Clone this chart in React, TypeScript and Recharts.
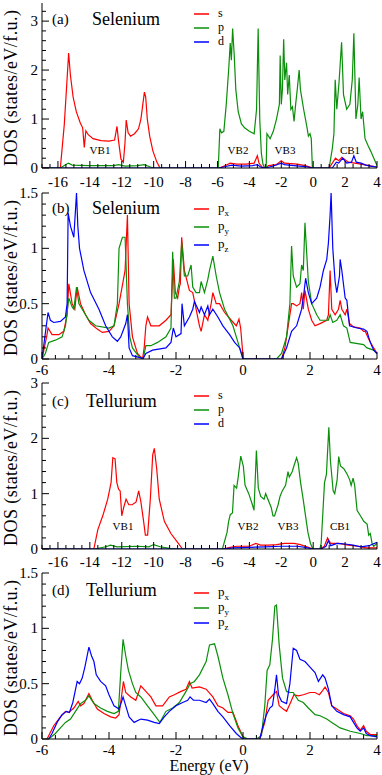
import React from 'react';
import { LineChart, Line, XAxis, YAxis } from 'recharts';

const FONT = '"Liberation Serif", "Times New Roman", serif';
const RED = '#ff0000';
const GREEN = '#0a8f0a';
const BLUE = '#0000ff';

type Pt = [number, number];

// (a) Selenium: s, p, d projected DOS  [energy eV, DOS]
const seS: Pt[] = [
  [-17, 0], [-15.85, 0], [-15.6, 0.9], [-15.45, 1.7], [-15.33, 2.35], [-15.22, 1.9], [-15.05, 1.45],
  [-14.85, 1.15], [-14.6, 0.92], [-14.45, 0.82], [-14.35, 0.42], [-14.25, 0.76], [-14.1, 0.68],
  [-13.8, 0.6], [-13.3, 0.56], [-12.8, 0.55], [-12.45, 0.57], [-12.3, 0.85], [-12.2, 0.55],
  [-12.05, 0.18], [-11.9, 0.12], [-11.8, 0.5], [-11.72, 0.98], [-11.6, 0.72], [-11.45, 0.65],
  [-11.2, 0.7], [-10.95, 0.8], [-10.8, 1.0], [-10.7, 1.25], [-10.58, 1.55], [-10.5, 1.45],
  [-10.4, 1.0], [-10.25, 0.65], [-10.05, 0.35], [-9.8, 0.12], [-9.6, 0],
  [-5.9, 0], [-5.5, 0.05], [-5.2, 0.1], [-4.8, 0.08], [-4.2, 0.08], [-3.7, 0.1], [-3.5, 0.25],
  [-3.4, 0.1], [-3.2, 0.02], [-3.0, 0], [-2.8, 0.05], [-2.3, 0.07], [-2.0, 0.15], [-1.8, 0.1],
  [-1.0, 0.08], [-0.5, 0.05], [0, 0], [1.0, 0], [1.4, 0.2], [1.6, 0.15], [1.8, 0.22], [2.2, 0.12],
  [2.6, 0.1], [3.0, 0.08], [3.5, 0.05], [4, 0.02],
];
const seP: Pt[] = [
  [-17, 0], [-15.85, 0], [-15.6, 0.05], [-15.35, 0.1], [-15.1, 0.06], [-14, 0.05], [-12.5, 0.05],
  [-12.2, 0.07], [-11.8, 0.04], [-11, 0.05], [-10.6, 0.07], [-10.2, 0.02], [-10, 0],
  [-5.95, 0], [-5.85, 0.8], [-5.75, 0.72], [-5.6, 0.75], [-5.45, 1.3], [-5.3, 2.0], [-5.2, 2.55],
  [-5.13, 2.2], [-5.05, 2.85], [-4.95, 2.3], [-4.85, 1.6], [-4.7, 1.15], [-4.5, 0.9], [-4.3, 0.82],
  [-4.0, 0.75], [-3.7, 0.7], [-3.55, 1.2], [-3.45, 2.85], [-3.35, 1.0], [-3.25, 0.3], [-3.15, 0.08],
  [-3.05, 0], [-2.95, 0], [-2.9, 0.7], [-2.7, 0.6], [-2.5, 0.75], [-2.3, 1.0], [-2.12, 1.3],
  [-2.07, 2.3], [-2.0, 1.3], [-1.93, 1.6], [-1.85, 2.63], [-1.78, 1.8], [-1.67, 2.15], [-1.6, 1.5],
  [-1.5, 1.9], [-1.4, 1.2], [-1.3, 1.25], [-1.2, 0.95], [-1.1, 1.3], [-1.0, 1.6], [-0.88, 2.0],
  [-0.8, 1.6], [-0.6, 1.2], [-0.4, 0.85], [-0.3, 0.65], [-0.2, 0.7], [-0.12, 0.6], [-0.05, 0],
  [1.0, 0], [1.2, 0.4], [1.3, 0.7], [1.38, 1.8], [1.48, 1.2], [1.62, 1.75], [1.78, 2.57], [1.9, 1.5],
  [2.1, 1.2], [2.3, 1.3], [2.45, 1.8], [2.55, 2.75], [2.68, 1.0], [2.8, 1.3], [2.88, 1.85], [3.0, 1.0],
  [3.1, 1.15], [3.25, 0.6], [3.45, 0.45], [3.6, 0.35], [3.8, 0.2], [4.0, 0.05],
];
const seD: Pt[] = [
  [-17, 0], [-5.9, 0], [-5.5, 0.03], [-5.1, 0.06], [-4.5, 0.04], [-3.8, 0.05], [-3.5, 0.07],
  [-3.3, 0.02], [-3.0, 0], [-2.5, 0.04], [-2.0, 0.1], [-1.8, 0.07], [-1.2, 0.05], [-0.5, 0.03],
  [0, 0], [1.2, 0], [1.45, 0.12], [1.6, 0.1], [1.85, 0.2], [2.1, 0.1], [2.4, 0.12], [2.55, 0.25],
  [2.7, 0.12], [3.0, 0.1], [3.3, 0.06], [3.6, 0.04], [4, 0.02],
];

// (b) Selenium: px, py, pz
const sePx: Pt[] = [
  [-6, 0], [-5.85, 0.22], [-5.82, 0.28], [-5.7, 0.22], [-5.5, 0.22], [-5.35, 0.25], [-5.25, 0.4],
  [-5.2, 0.68], [-5.1, 0.5], [-5.02, 0.45], [-4.95, 0.65], [-4.85, 0.5], [-4.7, 0.4], [-4.55, 0.32],
  [-4.35, 0.27], [-4.2, 0.24], [-4.0, 0.25], [-3.85, 0.3], [-3.7, 0.5], [-3.58, 0.7], [-3.52, 0.8],
  [-3.45, 1.3], [-3.4, 0.5], [-3.3, 0.2], [-3.15, 0.05], [-3.0, 0], [-2.95, 0.1], [-2.9, 0.3],
  [-2.85, 0.38], [-2.75, 0.3], [-2.5, 0.3], [-2.3, 0.35], [-2.15, 0.4], [-2.08, 0.9], [-2.02, 0.6],
  [-1.95, 0.55], [-1.9, 0.65], [-1.87, 0.68], [-1.83, 1.1], [-1.75, 0.8], [-1.6, 0.62], [-1.5, 0.6],
  [-1.4, 0.45], [-1.3, 0.3], [-1.25, 0.25], [-1.15, 0.4], [-1.05, 0.35], [-0.95, 0.5], [-0.9, 0.6],
  [-0.8, 0.5], [-0.7, 0.5], [-0.55, 0.42], [-0.35, 0.35], [-0.2, 0.3], [-0.12, 0.36], [-0.07, 0.28],
  [-0.02, 0.1], [0, 0], [1.15, 0], [1.25, 0.1], [1.35, 0.3], [1.45, 0.5], [1.5, 0.5], [1.6, 0.48],
  [1.7, 0.5], [1.75, 0.6], [1.8, 0.45], [1.85, 0.62], [1.95, 0.45], [2.05, 0.35], [2.15, 0.3],
  [2.3, 0.32], [2.5, 0.35], [2.55, 0.4], [2.6, 0.8], [2.65, 0.45], [2.75, 0.4], [2.85, 0.45],
  [2.9, 0.53], [2.95, 0.45], [3.05, 0.4], [3.1, 0.45], [3.18, 0.32], [3.3, 0.29], [3.5, 0.28],
  [3.6, 0.25], [3.65, 0.25], [3.75, 0.18], [3.9, 0.1], [4, 0.05],
];
const sePy: Pt[] = [
  [-6, 0], [-5.9, 0.05], [-5.8, 0.15], [-5.6, 0.17], [-5.4, 0.2], [-5.3, 0.3], [-5.2, 0.55],
  [-5.1, 0.47], [-5.05, 0.45], [-4.97, 0.65], [-4.9, 0.5], [-4.8, 0.45], [-4.6, 0.35], [-4.4, 0.3],
  [-4.0, 0.28], [-3.85, 0.3], [-3.75, 0.5], [-3.7, 1.0], [-3.6, 1.1], [-3.52, 1.1], [-3.45, 0.5],
  [-3.38, 0.2], [-3.3, 0.1], [-3.1, 0.02], [-2.98, 0], [-2.9, 0.12], [-2.75, 0.12], [-2.55, 0.15],
  [-2.3, 0.2], [-2.15, 0.28], [-2.1, 0.97], [-2.05, 0.55], [-2.0, 0.55], [-1.9, 0.7], [-1.83, 1.05],
  [-1.75, 0.75], [-1.65, 0.75], [-1.55, 0.85], [-1.5, 0.65], [-1.4, 0.6], [-1.3, 0.6], [-1.25, 0.7],
  [-1.15, 0.6], [-1.05, 0.72], [-1.0, 0.8], [-0.9, 0.93], [-0.8, 0.75], [-0.7, 0.6], [-0.55, 0.45],
  [-0.3, 0.3], [-0.2, 0.2], [-0.1, 0.1], [0, 0], [1.0, 0], [1.15, 0.05], [1.3, 0.2], [1.4, 0.5],
  [1.45, 1.02], [1.5, 0.75], [1.6, 0.65], [1.7, 0.68], [1.75, 0.85], [1.8, 0.8], [1.85, 1.23],
  [1.95, 0.7], [2.05, 0.5], [2.2, 0.4], [2.3, 0.35], [2.55, 0.35], [2.6, 0.4], [2.68, 0.33],
  [2.8, 0.35], [2.9, 0.4], [3.0, 0.3], [3.1, 0.28], [3.2, 0.15], [3.6, 0.13], [3.7, 0.1],
  [3.9, 0.08], [4, 0.05],
];
const sePz: Pt[] = [
  [-6, 0], [-5.82, 0.42], [-5.75, 0.35], [-5.65, 0.33], [-5.45, 0.34], [-5.3, 0.38], [-5.25, 0.5],
  [-5.22, 1.32], [-5.15, 1.2], [-5.05, 1.1], [-4.97, 1.5], [-4.93, 1.2], [-4.88, 1.0], [-4.75, 0.8],
  [-4.55, 0.6], [-4.3, 0.45], [-4.1, 0.3], [-3.9, 0.2], [-3.75, 0.16], [-3.65, 0.2], [-3.55, 0.28],
  [-3.5, 0.32], [-3.45, 0.4], [-3.4, 0.1], [-3.3, 0.03], [-3.05, 0.01], [-2.98, 0.005], [-2.9, 0.05],
  [-2.7, 0.08], [-2.3, 0.1], [-2.15, 0.15], [-2.08, 0.28], [-2.0, 0.2], [-1.85, 0.23], [-1.82, 0.5],
  [-1.75, 0.3], [-1.6, 0.38], [-1.5, 0.45], [-1.45, 0.52], [-1.3, 0.42], [-1.25, 0.47], [-1.15, 0.4],
  [-1.05, 0.48], [-1.0, 0.4], [-0.9, 0.45], [-0.75, 0.38], [-0.6, 0.3], [-0.4, 0.22], [-0.25, 0.15],
  [-0.1, 0.1], [0, 0], [1.15, 0], [1.3, 0.1], [1.45, 0.25], [1.6, 0.3], [1.7, 0.4], [1.75, 0.45],
  [1.82, 0.6], [1.87, 0.73], [1.95, 0.6], [2.05, 0.5], [2.2, 0.55], [2.3, 0.65], [2.4, 0.8],
  [2.5, 0.9], [2.55, 1.05], [2.6, 1.3], [2.63, 1.5], [2.68, 1.0], [2.75, 0.7], [2.8, 0.6],
  [2.88, 0.75], [2.9, 0.9], [2.95, 0.8], [3.05, 0.55], [3.1, 0.53], [3.18, 0.3], [3.4, 0.28],
  [3.6, 0.27], [3.7, 0.25], [3.8, 0.15], [3.9, 0.08], [4, 0.05],
];

// (c) Tellurium: s, p, d
const teS: Pt[] = [
  [-17, 0], [-13.75, 0], [-13.5, 0.35], [-13.19, 0.6], [-12.88, 0.9], [-12.67, 1.2], [-12.56, 1.65],
  [-12.42, 1.63], [-12.31, 1.2], [-12.2, 1.08], [-12.1, 1.05], [-12.0, 0.6], [-11.88, 0.75],
  [-11.73, 0.9], [-11.56, 0.8], [-11.35, 0.8], [-11.1, 0.85], [-10.94, 1.05], [-10.8, 0.85],
  [-10.63, 0.5], [-10.52, 0.25], [-10.38, 0.25], [-10.21, 0.9], [-10.06, 1.7], [-9.96, 1.82],
  [-9.81, 1.45], [-9.65, 0.9], [-9.33, 0.5], [-8.92, 0.28], [-8.5, 0.12], [-8.19, 0],
  [-5.7, 0], [-5.2, 0.03], [-4.8, 0.05], [-4.0, 0.05], [-3.6, 0.1], [-3.3, 0.07], [-2.8, 0.07],
  [-2.3, 0.08], [-1.8, 0.1], [-1.2, 0.1], [-0.8, 0.08], [-0.4, 0.04], [0, 0], [0.45, 0], [0.7, 0.05],
  [0.9, 0.2], [1.1, 0.1], [1.6, 0.1], [2.2, 0.07], [2.8, 0.05], [3.3, 0.02], [4, 0.02],
];
const teP: Pt[] = [
  [-17, 0], [-13.7, 0], [-13, 0.04], [-12.7, 0.07], [-12.3, 0.04], [-11, 0.05], [-10.3, 0.04],
  [-10.0, 0.08], [-9.6, 0.04], [-9.0, 0.01], [-8.5, 0],
  [-5.69, 0], [-5.4, 0.3], [-5.3, 0.5], [-5.2, 0.62], [-5.06, 0.65], [-4.96, 1.15], [-4.8, 1.1],
  [-4.7, 1.3], [-4.54, 1.68], [-4.38, 1.5], [-4.27, 1.15], [-4.04, 1.0], [-3.81, 0.8], [-3.71, 0.7],
  [-3.56, 1.78], [-3.44, 1.1], [-3.29, 0.95], [-3.08, 0.9], [-2.98, 1.0], [-2.77, 0.85], [-2.63, 0.75],
  [-2.52, 0.6], [-2.42, 0.6], [-2.2, 0.8], [-2.08, 0.95], [-1.94, 1.05], [-1.73, 1.15], [-1.58, 1.4],
  [-1.5, 1.3], [-1.31, 1.4], [-1.21, 1.5], [-1.04, 1.65], [-0.94, 1.55], [-0.79, 1.2], [-0.63, 0.9],
  [-0.48, 0.6], [-0.33, 0.3], [-0.17, 0.1], [-0.02, 0],
  [0.42, 0], [0.5, 0.1], [0.71, 1.2], [0.83, 1.35], [0.98, 2.2], [1.08, 1.6], [1.25, 1.05],
  [1.35, 1.0], [1.5, 1.25], [1.6, 1.67], [1.71, 1.5], [1.92, 1.45], [2.13, 1.35], [2.29, 1.25],
  [2.38, 1.15], [2.5, 1.28], [2.6, 1.15], [2.75, 0.7], [2.96, 0.6], [3.17, 0.5], [3.38, 0.45],
  [3.48, 0.25], [3.58, 0.28], [3.69, 0.1], [3.79, 0.05], [4.0, 0.1],
];
const teD: Pt[] = [
  [-17, 0], [-5.7, 0], [-5, 0.02], [-4, 0.03], [-3, 0.04], [-2, 0.05], [-1, 0.05], [-0.5, 0.03],
  [0, 0], [0.5, 0], [0.8, 0.05], [0.95, 0.15], [1.1, 0.06], [1.5, 0.1], [2.0, 0.09], [2.5, 0.07],
  [3.0, 0.04], [3.5, 0.06], [4, 0.12],
];

// (d) Tellurium: px, py, pz
const tePx: Pt[] = [
  [-5.85, 0], [-5.65, 0.12], [-5.45, 0.2], [-5.3, 0.25], [-5.2, 0.24], [-5.05, 0.28], [-4.92, 0.34],
  [-4.85, 0.3], [-4.75, 0.32], [-4.6, 0.41], [-4.5, 0.35], [-4.35, 0.27], [-4.15, 0.23], [-3.95, 0.2],
  [-3.8, 0.19], [-3.7, 0.22], [-3.62, 0.4], [-3.57, 0.52], [-3.5, 0.42], [-3.35, 0.38], [-3.2, 0.35],
  [-3.05, 0.48], [-2.9, 0.43], [-2.75, 0.38], [-2.6, 0.3], [-2.4, 0.3], [-2.2, 0.38], [-2.05, 0.4],
  [-1.85, 0.43], [-1.7, 0.45], [-1.6, 0.52], [-1.52, 0.46], [-1.3, 0.47], [-1.1, 0.45], [-0.9, 0.38],
  [-0.75, 0.3], [-0.6, 0.28], [-0.45, 0.24], [-0.3, 0.24], [-0.15, 0.12], [0.0, 0.02], [0.1, 0],
  [0.5, 0], [0.65, 0.15], [0.75, 0.35], [0.9, 0.4], [1.0, 0.43], [1.08, 0.3], [1.2, 0.27], [1.3, 0.25],
  [1.42, 0.33], [1.52, 0.4], [1.65, 0.39], [1.8, 0.4], [2.0, 0.42], [2.15, 0.42], [2.28, 0.4],
  [2.38, 0.44], [2.45, 0.47], [2.55, 0.42], [2.65, 0.3], [2.8, 0.27], [3.0, 0.23], [3.2, 0.21],
  [3.3, 0.18], [3.4, 0.12], [3.5, 0.08], [3.6, 0.12], [3.68, 0.07], [3.8, 0.04], [4.0, 0.04],
];
const tePy: Pt[] = [
  [-5.8, 0], [-5.6, 0.05], [-5.45, 0.1], [-5.3, 0.15], [-5.15, 0.18], [-5.0, 0.25], [-4.85, 0.32],
  [-4.7, 0.35], [-4.6, 0.39], [-4.45, 0.32], [-4.25, 0.28], [-4.05, 0.25], [-3.85, 0.23], [-3.72, 0.25],
  [-3.65, 0.6], [-3.58, 0.9], [-3.5, 0.75], [-3.42, 0.62], [-3.3, 0.5], [-3.2, 0.42], [-3.05, 0.38],
  [-2.85, 0.3], [-2.65, 0.22], [-2.48, 0.15], [-2.3, 0.25], [-2.1, 0.28], [-1.9, 0.33], [-1.7, 0.43],
  [-1.58, 0.5], [-1.45, 0.52], [-1.3, 0.58], [-1.1, 0.7], [-1.0, 0.85], [-0.85, 0.86], [-0.75, 0.75],
  [-0.6, 0.55], [-0.45, 0.4], [-0.3, 0.23], [-0.15, 0.1], [0.0, 0.02], [0.15, 0],
  [0.4, 0], [0.55, 0.03], [0.65, 0.3], [0.72, 0.62], [0.8, 0.67], [0.88, 0.9], [0.95, 1.2], [1.0, 1.21],
  [1.08, 0.85], [1.18, 0.55], [1.3, 0.43], [1.4, 0.42], [1.5, 0.42], [1.65, 0.35], [1.8, 0.33],
  [1.95, 0.28], [2.15, 0.22], [2.3, 0.21], [2.5, 0.18], [2.65, 0.15], [2.9, 0.1], [3.2, 0.07],
  [3.5, 0.05], [3.7, 0.03], [4.0, 0.03],
];
const tePz: Pt[] = [
  [-5.8, 0], [-5.7, 0.05], [-5.55, 0.15], [-5.4, 0.22], [-5.27, 0.25], [-5.18, 0.24], [-5.08, 0.33],
  [-4.95, 0.52], [-4.88, 0.5], [-4.8, 0.55], [-4.72, 0.65], [-4.6, 0.83], [-4.52, 0.75], [-4.45, 0.7],
  [-4.38, 0.58], [-4.25, 0.52], [-4.1, 0.48], [-4.0, 0.4], [-3.85, 0.3], [-3.7, 0.27], [-3.58, 0.38],
  [-3.5, 0.3], [-3.4, 0.2], [-3.25, 0.15], [-3.05, 0.18], [-2.85, 0.17], [-2.65, 0.15], [-2.5, 0.14],
  [-2.35, 0.2], [-2.2, 0.25], [-2.0, 0.3], [-1.8, 0.33], [-1.65, 0.35], [-1.58, 0.38], [-1.48, 0.35],
  [-1.3, 0.35], [-1.1, 0.33], [-1.0, 0.36], [-0.9, 0.32], [-0.75, 0.25], [-0.6, 0.2], [-0.4, 0.12],
  [-0.2, 0.05], [-0.05, 0.01], [0.05, 0],
  [0.5, 0], [0.6, 0.12], [0.7, 0.22], [0.8, 0.28], [0.88, 0.3], [0.95, 0.45], [1.0, 0.58], [1.06, 0.4],
  [1.15, 0.34], [1.3, 0.32], [1.4, 0.5], [1.5, 0.82], [1.6, 0.8], [1.7, 0.72], [1.85, 0.7], [2.0, 0.65],
  [2.15, 0.6], [2.25, 0.52], [2.38, 0.58], [2.45, 0.55], [2.55, 0.45], [2.65, 0.3], [2.8, 0.25],
  [3.0, 0.22], [3.2, 0.2], [3.3, 0.15], [3.4, 0.1], [3.5, 0.07], [3.6, 0.1], [3.68, 0.05],
  [3.8, 0.03], [4.0, 0.02],
];

const wideMajor = [-16, -14, -12, -10, -8, -6, -4, -2, 0, 2, 4];
const narrowMajor = [-6, -4, -2, 0, 2, 4];
const yMajorBig = [0, 1, 2, 3];
const yMajorSmall = [0, 0.5, 1, 1.5];

function steps(from: number, to: number, step: number) {
  const out: number[] = [];
  for (let v = from; v <= to + 1e-9; v += step) out.push(Math.round(v * 1000) / 1000);
  return out;
}
const isMajor = (v: number, majors: number[]) => majors.some((m) => Math.abs(m - v) < 1e-6);
const toPts = (a: Pt[]) => a.map(([e, d]) => ({ e, d }));

interface Series { data: Pt[]; color: string }

interface PanelProps {
  top: number;
  height: number;
  axisH: number;
  xMin: number;
  xMinor: number;
  xMajors: number[];
  yMax: number;
  yMinor: number;
  yMajors: number[];
  labelDy: number;
  series: Series[];
  children?: React.ReactNode;
}

function Panel({ top, height, axisH, xMin, xMinor, xMajors, yMax, yMinor, yMajors, labelDy, series, children }: PanelProps) {
  const xTicks = steps(xMin, 4, xMinor);
  const yTicks = steps(0, yMax, yMinor);
  // extra room above so the top tick label is not clipped
  const pad = top === 0 ? 0 : 10;

  const bottomTick = (p: any) => {
    const v = p.payload.value;
    const major = isMajor(v, xMajors);
    return (
      <g>
        <line x1={p.x} x2={p.x} y1={p.y} y2={p.y - (major ? 7 : 4)} stroke="#000" />
        {major && (
          <text x={p.x} y={p.y + labelDy} textAnchor="middle" fontSize={15} fontFamily={FONT} fill="#000">
            {String(v)}
          </text>
        )}
      </g>
    );
  };
  const topTick = (p: any) => {
    const major = isMajor(p.payload.value, xMajors);
    return <line x1={p.x} x2={p.x} y1={p.y} y2={p.y + (major ? 7 : 4)} stroke="#000" />;
  };
  const leftTick = (p: any) => {
    const v = p.payload.value;
    const major = isMajor(v, yMajors);
    return (
      <g>
        <line x1={p.x} x2={p.x + (major ? 7 : 4)} y1={p.y} y2={p.y} stroke="#000" />
        {major && (
          <text x={p.x - 4} y={p.y + 5} textAnchor="end" fontSize={15} fontFamily={FONT} fill="#000">
            {String(v)}
          </text>
        )}
      </g>
    );
  };
  const rightTick = (p: any) => {
    const major = isMajor(p.payload.value, yMajors);
    return <line x1={p.x} x2={p.x - (major ? 7 : 4)} y1={p.y} y2={p.y} stroke="#000" />;
  };

  return (
    <div style={{ position: 'absolute', left: 0, top: top - pad, width: 382, height: height + pad }}>
      <LineChart width={382} height={height + pad} margin={{ top: 3 + pad, right: 5, left: 0, bottom: 0 }}>
        <XAxis xAxisId="x" type="number" dataKey="e" domain={[xMin, 4]} ticks={xTicks} interval={0}
          allowDataOverflow height={axisH} tickSize={0} tickMargin={0} tickLine={false}
          axisLine={{ stroke: '#000' }} tick={bottomTick} />
        <XAxis xAxisId="t" type="number" orientation="top" domain={[xMin, 4]} ticks={xTicks} interval={0}
          allowDataOverflow height={0} tickSize={0} tickMargin={0} tickLine={false}
          axisLine={{ stroke: '#000' }} tick={topTick} />
        <YAxis yAxisId="y" type="number" domain={[0, yMax]} ticks={yTicks} interval={0}
          allowDataOverflow width={42} tickSize={0} tickMargin={0} tickLine={false}
          axisLine={{ stroke: '#000' }} tick={leftTick} />
        <YAxis yAxisId="r" type="number" orientation="right" domain={[0, yMax]} ticks={yTicks} interval={0}
          allowDataOverflow width={0} tickSize={0} tickMargin={0} tickLine={false}
          axisLine={{ stroke: '#000' }} tick={rightTick} />
        {series.map((s, i) => (
          <Line key={i} xAxisId="x" yAxisId="y" data={toPts(s.data)} dataKey="d" type="linear"
            stroke={s.color} strokeWidth={1.2} dot={false} isAnimationActive={false} />
        ))}
      </LineChart>
      <svg width={382} height={height + pad} style={{ position: 'absolute', left: 0, top: 0, pointerEvents: 'none' }}>
        <g transform={`translate(0,${pad})`}>
          <text transform="translate(17,88) rotate(-90)" textAnchor="middle" fontSize={18} fontFamily={FONT}
            textLength={156} lengthAdjust="spacing">
            DOS (states/eV/f.u.)
          </text>
          {children}
        </g>
      </svg>
    </div>
  );
}

function Title({ tag, name, y }: { tag: string; name: string; y: number }) {
  return (
    <g fontFamily={FONT} fill="#000">
      <text x={52} y={y} fontSize={15}>{tag}</text>
      <text x={name === 'Selenium' ? 92 : 86} y={y + 1} fontSize={18}>{name}</text>
    </g>
  );
}

function LegendRow({ y, color, label, sub }: { y: number; color: string; label: string; sub?: string }) {
  return (
    <g>
      <line x1={194} x2={209} y1={y} y2={y} stroke={color} strokeWidth={1.5} />
      <text x={218} y={y + 3} fontSize={sub ? 13 : 12} fontFamily={FONT}>
        {label}
        {sub && <tspan dy={4} fontSize={9}>{sub}</tspan>}
      </text>
    </g>
  );
}

function Band({ x, y, t }: { x: number; y: number; t: string }) {
  return <text x={x} y={y} textAnchor="middle" fontSize={11} fontFamily={FONT}>{t}</text>;
}

export default function App() {
  return (
    <div style={{ position: 'absolute', left: 0, top: 0, width: 382, height: 775, background: '#fff' }}>
      <Panel top={0} height={190} axisH={22} xMin={-17} xMinor={0.5} xMajors={wideMajor}
        yMax={3.37} yMinor={0.2} yMajors={yMajorBig} labelDy={19}
        series={[{ data: seS, color: RED }, { data: seP, color: GREEN }, { data: seD, color: BLUE }]}>
        <Title tag="(a)" name="Selenium" y={24} />
        <LegendRow y={14} color={RED} label="s" />
        <LegendRow y={28} color={GREEN} label="p" />
        <LegendRow y={42} color={BLUE} label="d" />
        <Band x={100} y={154} t="VB1" />
        <Band x={238} y={154} t="VB2" />
        <Band x={285} y={154} t="VB3" />
        <Band x={350} y={154} t="CB1" />
      </Panel>
      <Panel top={190} height={191} axisH={22} xMin={-6} xMinor={0.4} xMajors={narrowMajor}
        yMax={1.5} yMinor={0.1} yMajors={yMajorSmall} labelDy={16}
        series={[{ data: sePx, color: RED }, { data: sePy, color: GREEN }, { data: sePz, color: BLUE }]}>
        <Title tag="(b)" name="Selenium" y={23} />
        <LegendRow y={19} color={RED} label="p" sub="x" />
        <LegendRow y={37} color={GREEN} label="p" sub="y" />
        <LegendRow y={55} color={BLUE} label="p" sub="z" />
      </Panel>
      <Panel top={380} height={191} axisH={22} xMin={-17} xMinor={0.5} xMajors={wideMajor}
        yMax={3} yMinor={0.2} yMajors={yMajorBig} labelDy={18}
        series={[{ data: teS, color: RED }, { data: teP, color: GREEN }, { data: teD, color: BLUE }]}>
        <Title tag="(c)" name="Tellurium" y={26} />
        <LegendRow y={16} color={RED} label="s" />
        <LegendRow y={30} color={GREEN} label="p" />
        <LegendRow y={44} color={BLUE} label="d" />
        <Band x={123} y={150} t="VB1" />
        <Band x={248} y={150} t="VB2" />
        <Band x={288} y={150} t="VB3" />
        <Band x={340} y={150} t="CB1" />
      </Panel>
      <Panel top={570} height={205} axisH={36} xMin={-6} xMinor={0.4} xMajors={narrowMajor}
        yMax={1.5} yMinor={0.1} yMajors={yMajorSmall} labelDy={16}
        series={[{ data: tePx, color: RED }, { data: tePy, color: GREEN }, { data: tePz, color: BLUE }]}>
        <Title tag="(d)" name="Tellurium" y={25} />
        <LegendRow y={23} color={RED} label="p" sub="x" />
        <LegendRow y={38} color={GREEN} label="p" sub="y" />
        <LegendRow y={53} color={BLUE} label="p" sub="z" />
        <text x={209} y={201} textAnchor="middle" fontSize={16} fontFamily={FONT}>Energy (eV)</text>
      </Panel>
    </div>
  );
}
